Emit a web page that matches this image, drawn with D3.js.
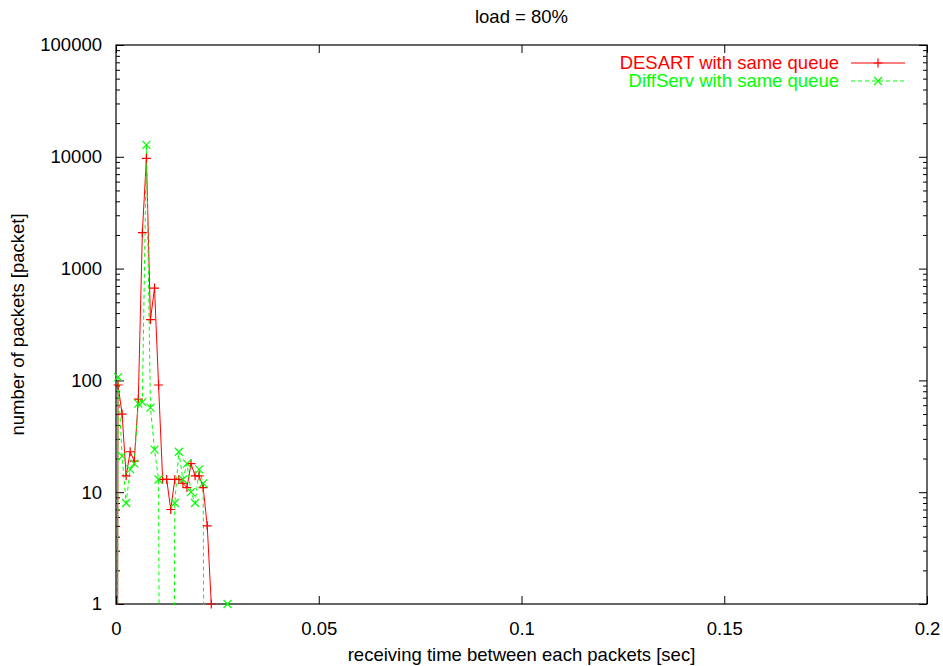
<!DOCTYPE html>
<html>
<head>
<meta charset="utf-8">
<script src="https://cdn.jsdelivr.net/npm/d3@7"></script>
<style>
  body { margin: 0; background: #fff; }
  text { font-family: "Liberation Sans", Arial, sans-serif; }
</style>
</head>
<body>
<div id="chart"></div>
<script>
var times = [0, 0.0005, 0.0015, 0.0025, 0.0035, 0.0045, 0.0055, 0.0065, 0.0075, 0.0085,
  0.0095, 0.0105, 0.0115, 0.0125, 0.0135, 0.0145, 0.0155, 0.0165, 0.0175, 0.0185,
  0.0195, 0.0205, 0.0215, 0.0225, 0.0235, 0.0245, 0.0255, 0.0265, 0.0275];
var desart = [0, 91, 50, 14, 23, 19, 68, 2100, 9700, 350, 670, 91, 13, 13, 7, 13, 13, 12, 11,
  18, 14, 14, 11, 5, 1, 0, 0, 0, 0];
var diffserv = [0, 107, 21, 8, 16, 18, 62, 64, 12800, 57, 24, 13, 0, 0, 0, 8, 23, 13, 18,
  10, 8, 16, 12, 0, 0, 0, 0, 0, 1];
var xTicks = [0, 0.05, 0.1, 0.15, 0.2];
var xTickLabels = ["0", "0.05", "0.1", "0.15", "0.2"];
var yTicks = [1, 10, 100, 1000, 10000, 100000];
var yTickLabels = ["1", "10", "100", "1000", "10000", "100000"];
var seriesNames = ["DESART with same queue", "DiffServ with same queue"];

var width = 943, height = 666;
var plotLeft = 116, plotRight = 927, plotTop = 45, plotBottom = 604;
var fontSize = 18.5;

var svg = d3.select("#chart").append("svg")
  .attr("width", width)
  .attr("height", height);

var x = d3.scaleLinear().domain([0, 0.2]).range([plotLeft, plotRight]);
var y = d3.scaleLog().domain([1, 100000]).range([plotBottom, plotTop]);

var minor = [];
for (var p = 0; p < 5; p++) {
  for (var m = 2; m < 10; m++) minor.push(m * Math.pow(10, p));
}

svg.append("defs").append("clipPath").attr("id", "plot-clip")
  .append("rect")
  .attr("x", plotLeft).attr("y", plotTop - 1)
  .attr("width", plotRight - plotLeft).attr("height", plotBottom - plotTop + 2);

// axes, ticks pointing inward
var axisStyle = function(g) {
  g.select(".domain").remove();
  g.selectAll(".tick line").attr("stroke", "#000");
  g.selectAll("text")
    .attr("fill", "#000")
    .style("font-size", fontSize + "px");
};

svg.append("g")
  .attr("transform", "translate(" + plotLeft + ",0)")
  .call(d3.axisLeft(y).tickValues(yTicks).tickSize(-8).tickPadding(14)
    .tickFormat(function(d, i) { return yTickLabels[i]; }))
  .call(axisStyle);
svg.append("g")
  .attr("transform", "translate(" + plotLeft + ",0)")
  .call(d3.axisLeft(y).tickValues(minor).tickSize(-4).tickFormat(""))
  .call(axisStyle);
svg.append("g")
  .attr("transform", "translate(" + plotRight + ",0)")
  .call(d3.axisRight(y).tickValues(yTicks).tickSize(-8).tickFormat(""))
  .call(axisStyle);
svg.append("g")
  .attr("transform", "translate(" + plotRight + ",0)")
  .call(d3.axisRight(y).tickValues(minor).tickSize(-4).tickFormat(""))
  .call(axisStyle);
svg.append("g")
  .attr("transform", "translate(0," + plotBottom + ")")
  .call(d3.axisBottom(x).tickValues(xTicks).tickSize(-8).tickPadding(18)
    .tickFormat(function(d, i) { return xTickLabels[i]; }))
  .call(axisStyle);
svg.append("g")
  .attr("transform", "translate(0," + plotTop + ")")
  .call(d3.axisTop(x).tickValues(xTicks).tickSize(-8).tickFormat(""))
  .call(axisStyle);

svg.append("rect")
  .attr("x", plotLeft).attr("y", plotTop)
  .attr("width", plotRight - plotLeft).attr("height", plotBottom - plotTop)
  .attr("fill", "none").attr("stroke", "#000").attr("stroke-width", 1.2);

// zero counts fall far below the log axis and get clipped
var line = d3.line()
  .x(function(d, i) { return x(times[i]); })
  .y(function(d) { return y(d > 0 ? d : 1e-9); });

var plot = svg.append("g").attr("clip-path", "url(#plot-clip)");
plot.append("path").datum(desart)
  .attr("d", line).attr("fill", "none")
  .attr("stroke", "#ff0000").attr("stroke-width", 1);
plot.append("path").datum(diffserv)
  .attr("d", line).attr("fill", "none")
  .attr("stroke", "#00ff00").attr("stroke-width", 1)
  .attr("stroke-dasharray", "4,3");

var plusPath = function(cx, cy) {
  return "M" + (cx - 4.5) + "," + cy + "H" + (cx + 4.5) +
    "M" + cx + "," + (cy - 4.5) + "V" + (cy + 4.5);
};
var crossPath = function(cx, cy) {
  return "M" + (cx - 4) + "," + (cy - 4) + "L" + (cx + 4) + "," + (cy + 4) +
    "M" + (cx - 4) + "," + (cy + 4) + "L" + (cx + 4) + "," + (cy - 4);
};

svg.append("g").selectAll("path")
  .data(desart.map(function(d, i) { return [times[i], d]; }).filter(function(d) { return d[1] >= 1; }))
  .enter().append("path")
  .attr("d", function(d) { return plusPath(x(d[0]), y(d[1])); })
  .attr("stroke", "#ff0000").attr("stroke-width", 1.2);

svg.append("g").selectAll("path")
  .data(diffserv.map(function(d, i) { return [times[i], d]; }).filter(function(d) { return d[1] >= 1; }))
  .enter().append("path")
  .attr("d", function(d) { return crossPath(x(d[0]), y(d[1])); })
  .attr("stroke", "#00ff00").attr("stroke-width", 1.2);

// legend
var legY = [63, 81];
var legColors = ["#ff0000", "#00ff00"];
seriesNames.forEach(function(name, i) {
  svg.append("text")
    .attr("x", 839).attr("y", legY[i] + 6)
    .attr("text-anchor", "end")
    .attr("fill", legColors[i])
    .style("font-size", fontSize + "px")
    .text(name);
  svg.append("line")
    .attr("x1", 851).attr("x2", 905)
    .attr("y1", legY[i]).attr("y2", legY[i])
    .attr("stroke", legColors[i])
    .attr("stroke-dasharray", i == 1 ? "4,3" : null);
  svg.append("path")
    .attr("d", i == 0 ? plusPath(878, legY[i]) : crossPath(878, legY[i]))
    .attr("stroke", legColors[i]).attr("stroke-width", 1.2);
});

svg.append("text")
  .attr("x", (plotLeft + plotRight) / 2).attr("y", 23)
  .attr("text-anchor", "middle")
  .style("font-size", fontSize + "px")
  .text("load = 80%");

svg.append("text")
  .attr("x", (plotLeft + plotRight) / 2).attr("y", 661)
  .attr("text-anchor", "middle")
  .style("font-size", fontSize + "px")
  .text("receiving time between each packets [sec]");

svg.append("text")
  .attr("transform", "translate(24," + ((plotTop + plotBottom) / 2) + ") rotate(-90)")
  .attr("text-anchor", "middle")
  .style("font-size", fontSize + "px")
  .text("number of packets [packet]");
</script>
</body>
</html>
